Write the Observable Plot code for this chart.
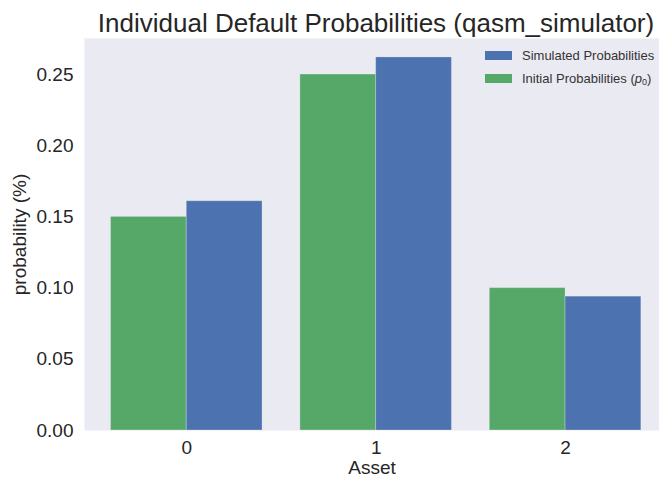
<!DOCTYPE html>
<html>
<head>
<meta charset="utf-8">
<script src="https://cdn.jsdelivr.net/npm/d3@7"></script>
<script src="https://cdn.jsdelivr.net/npm/@observablehq/plot@0.6"></script>
<style>
  body { margin: 0; background: #fff; font-family: "Liberation Sans", Arial, sans-serif; color: #262626; }
  #wrap { position: relative; width: 659px; height: 477px; overflow: hidden; }
  #title { position: relative; margin-left: 84px; width: 584px; height: 38px; line-height: 46px; text-align: center; font-size: 26px; white-space: nowrap; overflow: visible; }
  .leg { position: absolute; left: 485px; font-size: 13px; height: 20px; line-height: 20px; white-space: nowrap; color: #333; }
  .leg .sw { display: inline-block; width: 27px; height: 9px; vertical-align: middle; margin-right: 10px; position: relative; top: -1px; }
  .leg sub { font-size: 9px; vertical-align: -2px; line-height: 0; }
</style>
</head>
<body>
<div id="wrap">
  <div id="title">Individual Default Probabilities (qasm_simulator)</div>
  <div id="chart"></div>
  <div class="leg" style="top:46px"><span class="sw" style="background:#4C72B0"></span>Simulated Probabilities</div>
  <div class="leg" style="top:69px"><span class="sw" style="background:#55A868"></span>Initial Probabilities (<i>p</i><sub>0</sub>)</div>
</div>
<script>
const assets = [0, 1, 2];
const initialProbabilities = [0.15, 0.25, 0.10];
const simulatedProbabilities = [0.161, 0.262, 0.094];
const seriesNames = ["Initial Probabilities", "Simulated Probabilities"];
const seriesColors = ["#55A868", "#4C72B0"];
const yTicks = [0, 0.05, 0.10, 0.15, 0.20, 0.25];

const barWidth = 0.4;
const data = assets.flatMap((a, i) => [
  { asset: a, series: seriesNames[0], value: initialProbabilities[i], x1: a - barWidth, x2: a },
  { asset: a, series: seriesNames[1], value: simulatedProbabilities[i], x1: a, x2: a + barWidth }
]);

const chart = Plot.plot({
  width: 659,
  height: 439,
  marginTop: 0,
  marginLeft: 84,
  marginRight: 0,
  marginBottom: 47,
  style: { background: "transparent", fontFamily: "'Liberation Sans', Arial, sans-serif", fontSize: "19px", color: "#262626", overflow: "visible" },
  x: { type: "linear", domain: [-0.54, 2.496] },
  y: { domain: [0, 0.2753] },
  color: { domain: seriesNames, range: seriesColors },
  marks: [
    Plot.frame({ fill: "#EAEAF2", stroke: null }),
    Plot.rectY(data, { x1: "x1", x2: "x2", y: "value", fill: "series", stroke: "white", strokeOpacity: 0.25, strokeWidth: 1 }),
    Plot.axisX({ ticks: assets, tickFormat: "d", tickSize: 0, tickPadding: 10, label: "Asset", labelAnchor: "center", labelArrow: "none", labelOffset: 43, fontSize: 19 }),
    Plot.axisY({ ticks: yTicks, tickFormat: ".2f", tickSize: 0, tickPadding: 11, label: "probability (%)", labelAnchor: "center", labelArrow: "none", labelOffset: 72, fontSize: 19 })
  ]
});
document.getElementById("chart").appendChild(chart);
</script>
</body>
</html>
